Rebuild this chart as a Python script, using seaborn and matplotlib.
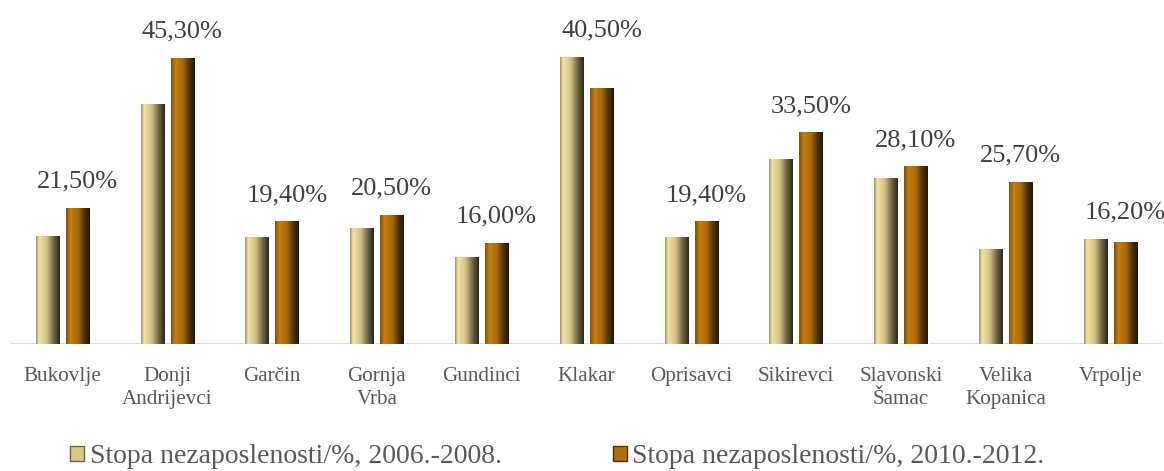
import numpy as np
import pandas as pd
import matplotlib
matplotlib.use('Agg')
import matplotlib.pyplot as plt
from matplotlib.colors import LinearSegmentedColormap
from matplotlib.patches import Patch
import seaborn as sns

# podaci
mjesta = ['Bukovlje', 'Donji\nAndrijevci', 'Garčin', 'Gornja\nVrba', 'Gundinci', 'Klakar',
          'Oprisavci', 'Sikirevci', 'Slavonski\nŠamac', 'Velika\nKopanica', 'Vrpolje']
stopa_2006_2008 = [17.1, 37.9, 17.0, 18.3, 13.8, 45.4, 16.9, 29.2, 26.2, 15.0, 16.6]
stopa_2010_2012 = [21.5, 45.3, 19.4, 20.5, 16.0, 40.5, 19.4, 33.5, 28.1, 25.7, 16.2]
serije = ['Stopa nezaposlenosti/%, 2006.-2008.', 'Stopa nezaposlenosti/%, 2010.-2012.']

df = pd.DataFrame({
    'mjesto': mjesta * 2,
    'stopa': stopa_2006_2008 + stopa_2010_2012,
    'serija': [serije[0]] * len(mjesta) + [serije[1]] * len(mjesta),
})

sns.set_style('white')
plt.rcParams['font.family'] = ['Liberation Serif', 'DejaVu Serif']

fig = plt.figure(figsize=(11.64, 4.71), dpi=100)
ax = fig.add_axes([10 / 1164, 1 - 344.3 / 471, 1153 / 1164, 334.3 / 471])

boja1 = '#D9C78A'
boja2 = '#B06E0C'
sns.barplot(data=df, x='mjesto', y='stopa', hue='serija', palette=[boja1, boja2],
            width=0.572, gap=0.22, legend=False, ax=ax, zorder=2)

# gradijent na stupcima (imitacija 3D izgleda)
cmap1 = LinearSegmentedColormap.from_list('s1', [(0, '#9E9066'), (0.12, '#F3E3A4'), (0.45, '#D2BF85'),
                                                 (0.75, '#6E6444'), (1, '#2B2619')])
cmap2 = LinearSegmentedColormap.from_list('s2', [(0, '#7E520E'), (0.18, '#C77F12'), (0.5, '#A96A0A'),
                                                 (0.78, '#4E3106'), (1, '#261703')])
grad = np.linspace(0, 1, 64).reshape(1, -1)
for cont, cm in zip(ax.containers, [cmap1, cmap2]):
    for bar in cont:
        x, y, w, h = bar.get_x(), bar.get_y(), bar.get_width(), bar.get_height()
        im = ax.imshow(grad, extent=[x, x + w, y, y + h], aspect='auto', cmap=cm,
                       zorder=3, interpolation='bicubic')
        im.set_clip_path(bar)

# oznake vrijednosti (druga serija)
for i, (a, b) in enumerate(zip(stopa_2006_2008, stopa_2010_2012)):
    xb = ax.containers[1][i].get_x() + ax.containers[1][i].get_width() / 2
    ax.annotate(f'{b:.2f}'.replace('.', ',') + '%', (xb, max(a, b)), xytext=(0, 11),
                textcoords='offset points', ha='center', va='bottom',
                fontsize=19, color='#404040', annotation_clip=False)

ax.set_xlim(-0.5, 10.5)
ax.set_ylim(0, 334.3 / 6.33)
ax.axhline(0, color='#D9D9D9', lw=2, zorder=1)
sns.despine(ax=ax, left=True, bottom=True)
ax.set_yticks([])
ax.set_xlabel('')
ax.set_ylabel('')
ax.tick_params(axis='x', length=0, pad=16, labelsize=15.2, labelcolor='#595959')
for t in ax.get_xticklabels():
    t.set_linespacing(1.3)

handles = [Patch(facecolor=boja1, edgecolor='#6E6444'), Patch(facecolor=boja2, edgecolor='#4E3106')]
fig.legend(handles, serije, loc='center', bbox_to_anchor=(0.479, 0.03), ncol=2, frameon=False,
           fontsize=20, labelcolor='#595959', handlelength=0.5, handleheight=0.5,
           handletextpad=0.2, columnspacing=4.0)

fig.savefig('out.png', dpi=100)
